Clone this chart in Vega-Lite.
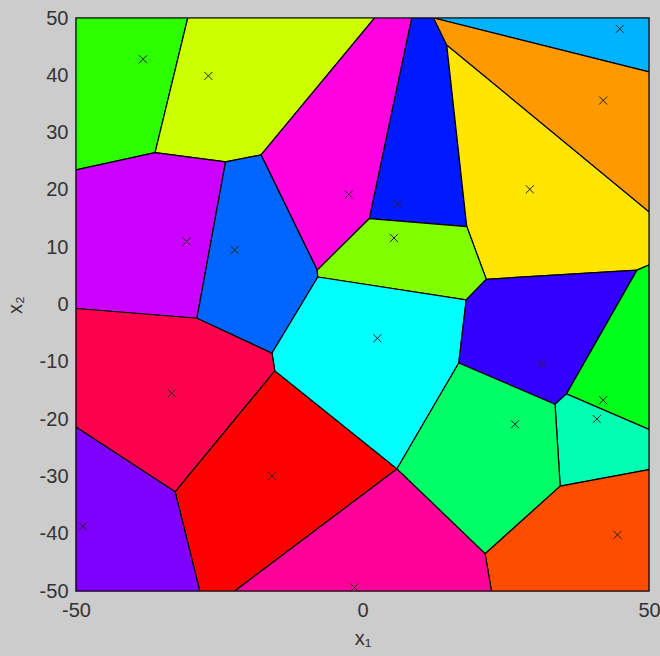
{
  "$schema": "https://vega.github.io/schema/vega-lite/v6.json",
  "width": 573,
  "height": 573,
  "autosize": {"type": "none"},
  "padding": {"left": 76, "top": 18, "right": 11, "bottom": 65},
  "background": "#cccccc",
  "config": {
    "view": {"stroke": "#111111", "strokeWidth": 1.5},
    "axis": {
      "labelFont": "Liberation Sans", "labelFontSize": 20, "labelColor": "#333333",
      "titleFont": "Liberation Sans", "titleFontSize": 20, "titleFontWeight": "normal", "titleColor": "#333333",
      "ticks": false, "domain": false, "grid": false, "labelFlush": false,
      "labelExpr": "'' + datum.value"
    }
  },
  "datasets": {
    "cells": [
      {"c":"c1","i":0,"x":-50,"y":50},{"c":"c1","i":1,"x":-30.5,"y":50},{"c":"c1","i":2,"x":-36.2,"y":26.5},{"c":"c1","i":3,"x":-50,"y":23.5},{"c":"c1","i":4,"x":-50,"y":50},
      {"c":"c2","i":0,"x":-30.5,"y":50},{"c":"c2","i":1,"x":2.1,"y":50},{"c":"c2","i":2,"x":-17.7,"y":26.1},{"c":"c2","i":3,"x":-23.9,"y":24.9},{"c":"c2","i":4,"x":-36.2,"y":26.5},{"c":"c2","i":5,"x":-30.5,"y":50},
      {"c":"c3","i":0,"x":2.1,"y":50},{"c":"c3","i":1,"x":8.6,"y":50},{"c":"c3","i":2,"x":1.2,"y":15.0},{"c":"c3","i":3,"x":-7.9,"y":6.0},{"c":"c3","i":4,"x":-17.7,"y":26.1},{"c":"c3","i":5,"x":2.1,"y":50},
      {"c":"c4","i":0,"x":8.6,"y":50},{"c":"c4","i":1,"x":12.4,"y":50},{"c":"c4","i":2,"x":14.7,"y":45.3},{"c":"c4","i":3,"x":18.2,"y":13.6},{"c":"c4","i":4,"x":1.2,"y":15.0},{"c":"c4","i":5,"x":8.6,"y":50},
      {"c":"c5","i":0,"x":14.7,"y":45.3},{"c":"c5","i":1,"x":50,"y":16.2},{"c":"c5","i":2,"x":50,"y":6.9},{"c":"c5","i":3,"x":47.9,"y":6.0},{"c":"c5","i":4,"x":21.6,"y":4.4},{"c":"c5","i":5,"x":18.2,"y":13.6},{"c":"c5","i":6,"x":14.7,"y":45.3},
      {"c":"c6","i":0,"x":12.4,"y":50},{"c":"c6","i":1,"x":50,"y":50},{"c":"c6","i":2,"x":50,"y":40.6},{"c":"c6","i":3,"x":12.4,"y":50},
      {"c":"c7","i":0,"x":12.4,"y":50},{"c":"c7","i":1,"x":50,"y":40.6},{"c":"c7","i":2,"x":50,"y":16.2},{"c":"c7","i":3,"x":14.7,"y":45.3},{"c":"c7","i":4,"x":12.4,"y":50},
      {"c":"c8","i":0,"x":-50,"y":23.5},{"c":"c8","i":1,"x":-36.2,"y":26.5},{"c":"c8","i":2,"x":-23.9,"y":24.9},{"c":"c8","i":3,"x":-28.9,"y":-2.4},{"c":"c8","i":4,"x":-50,"y":-0.7},{"c":"c8","i":5,"x":-50,"y":23.5},
      {"c":"c9","i":0,"x":-23.9,"y":24.9},{"c":"c9","i":1,"x":-17.7,"y":26.1},{"c":"c9","i":2,"x":-7.9,"y":6.0},{"c":"c9","i":3,"x":-7.8,"y":4.8},{"c":"c9","i":4,"x":-15.8,"y":-8.5},{"c":"c9","i":5,"x":-28.9,"y":-2.4},{"c":"c9","i":6,"x":-23.9,"y":24.9},
      {"c":"c10","i":0,"x":1.2,"y":15.0},{"c":"c10","i":1,"x":18.2,"y":13.6},{"c":"c10","i":2,"x":21.6,"y":4.4},{"c":"c10","i":3,"x":18.1,"y":0.8},{"c":"c10","i":4,"x":-7.8,"y":4.8},{"c":"c10","i":5,"x":-7.9,"y":6.0},{"c":"c10","i":6,"x":1.2,"y":15.0},
      {"c":"c11","i":0,"x":-7.8,"y":4.8},{"c":"c11","i":1,"x":18.1,"y":0.8},{"c":"c11","i":2,"x":16.8,"y":-10.2},{"c":"c11","i":3,"x":6.0,"y":-28.7},{"c":"c11","i":4,"x":-15.3,"y":-11.6},{"c":"c11","i":5,"x":-15.8,"y":-8.5},{"c":"c11","i":6,"x":-7.8,"y":4.8},
      {"c":"c12","i":0,"x":18.1,"y":0.8},{"c":"c12","i":1,"x":21.6,"y":4.4},{"c":"c12","i":2,"x":47.9,"y":6.0},{"c":"c12","i":3,"x":35.6,"y":-15.6},{"c":"c12","i":4,"x":33.6,"y":-17.4},{"c":"c12","i":5,"x":16.8,"y":-10.2},{"c":"c12","i":6,"x":18.1,"y":0.8},
      {"c":"c13","i":0,"x":-50,"y":-0.7},{"c":"c13","i":1,"x":-28.9,"y":-2.4},{"c":"c13","i":2,"x":-15.8,"y":-8.5},{"c":"c13","i":3,"x":-15.3,"y":-11.6},{"c":"c13","i":4,"x":-32.7,"y":-32.7},{"c":"c13","i":5,"x":-50,"y":-21.4},{"c":"c13","i":6,"x":-50,"y":-0.7},
      {"c":"c14","i":0,"x":47.9,"y":6.0},{"c":"c14","i":1,"x":50,"y":6.9},{"c":"c14","i":2,"x":50,"y":-21.8},{"c":"c14","i":3,"x":35.6,"y":-15.6},{"c":"c14","i":4,"x":47.9,"y":6.0},
      {"c":"c15","i":0,"x":33.6,"y":-17.4},{"c":"c15","i":1,"x":35.6,"y":-15.6},{"c":"c15","i":2,"x":50,"y":-21.8},{"c":"c15","i":3,"x":50,"y":-28.8},{"c":"c15","i":4,"x":34.5,"y":-31.7},{"c":"c15","i":5,"x":33.6,"y":-17.4},
      {"c":"c16","i":0,"x":6.0,"y":-28.7},{"c":"c16","i":1,"x":16.8,"y":-10.2},{"c":"c16","i":2,"x":33.6,"y":-17.4},{"c":"c16","i":3,"x":34.5,"y":-31.7},{"c":"c16","i":4,"x":21.4,"y":-43.5},{"c":"c16","i":5,"x":6.0,"y":-28.7},
      {"c":"c17","i":0,"x":-32.7,"y":-32.7},{"c":"c17","i":1,"x":-15.3,"y":-11.6},{"c":"c17","i":2,"x":6.0,"y":-28.7},{"c":"c17","i":3,"x":-22.3,"y":-50},{"c":"c17","i":4,"x":-28.4,"y":-50},{"c":"c17","i":5,"x":-32.7,"y":-32.7},
      {"c":"c18","i":0,"x":-50,"y":-21.4},{"c":"c18","i":1,"x":-32.7,"y":-32.7},{"c":"c18","i":2,"x":-28.4,"y":-50},{"c":"c18","i":3,"x":-50,"y":-50},{"c":"c18","i":4,"x":-50,"y":-21.4},
      {"c":"c19","i":0,"x":34.5,"y":-31.7},{"c":"c19","i":1,"x":50,"y":-28.8},{"c":"c19","i":2,"x":50,"y":-50},{"c":"c19","i":3,"x":22.5,"y":-50},{"c":"c19","i":4,"x":21.4,"y":-43.5},{"c":"c19","i":5,"x":34.5,"y":-31.7},
      {"c":"c20","i":0,"x":-22.3,"y":-50},{"c":"c20","i":1,"x":6.0,"y":-28.7},{"c":"c20","i":2,"x":21.4,"y":-43.5},{"c":"c20","i":3,"x":22.5,"y":-50},{"c":"c20","i":4,"x":-22.3,"y":-50}
    ],
    "seeds": [
      {"x":-38.3,"y":42.8},{"x":-26.9,"y":39.9},{"x":-2.4,"y":19.2},{"x":6.1,"y":17.5},{"x":29.2,"y":20.1},
      {"x":44.9,"y":48.1},{"x":42.0,"y":35.6},{"x":-30.7,"y":11.0},{"x":-22.3,"y":9.5},{"x":5.5,"y":11.6},
      {"x":2.6,"y":-5.9},{"x":31.3,"y":-10.3},{"x":-33.3,"y":-15.5},{"x":42.0,"y":-16.7},{"x":40.9,"y":-20.0},
      {"x":26.6,"y":-20.9},{"x":-15.8,"y":-29.9},{"x":-48.8,"y":-38.7},{"x":44.5,"y":-40.2},{"x":-1.4,"y":-49.4}
    ]
  },
  "layer": [
    {
      "data": {"name": "cells"},
      "mark": {"type": "line", "filled": true, "stroke": "#000000", "strokeWidth": 1.2, "interpolate": "linear", "clip": true},
      "encoding": {
        "x": {"field": "x", "type": "quantitative", "scale": {"domain": [-50, 50], "nice": false, "zero": false},
              "axis": {"values": [-50, 0, 50], "title": "x₁", "labelPadding": 9, "titlePadding": 8}},
        "y": {"field": "y", "type": "quantitative", "scale": {"domain": [-50, 50], "nice": false, "zero": false},
              "axis": {"values": [-50, -40, -30, -20, -10, 0, 10, 20, 30, 40, 50], "title": "x₂", "labelPadding": 8, "titlePadding": 14}},
        "order": {"field": "i", "type": "quantitative"},
        "detail": {"field": "c"},
        "color": {"field": "c", "type": "nominal", "legend": null,
          "scale": {
            "domain": ["c1","c2","c3","c4","c5","c6","c7","c8","c9","c10","c11","c12","c13","c14","c15","c16","c17","c18","c19","c20"],
            "range": ["#2bff00","#ccff00","#ff00e0","#0019ff","#ffe500","#00b3ff","#ff9900","#cc00ff","#0066ff","#80ff00","#00ffff","#3300ff","#ff004c","#00ff19","#00ffb3","#00ff66","#ff0000","#8000ff","#ff4d00","#ff0099"]
          }}
      }
    },
    {
      "data": {"name": "seeds"},
      "mark": {"type": "point", "shape": "M-1,-1L1,1M-1,1L1,-1", "size": 64, "filled": false, "stroke": "#222222", "strokeWidth": 1, "opacity": 1},
      "encoding": {
        "x": {"field": "x", "type": "quantitative"},
        "y": {"field": "y", "type": "quantitative"}
      }
    }
  ]
}
